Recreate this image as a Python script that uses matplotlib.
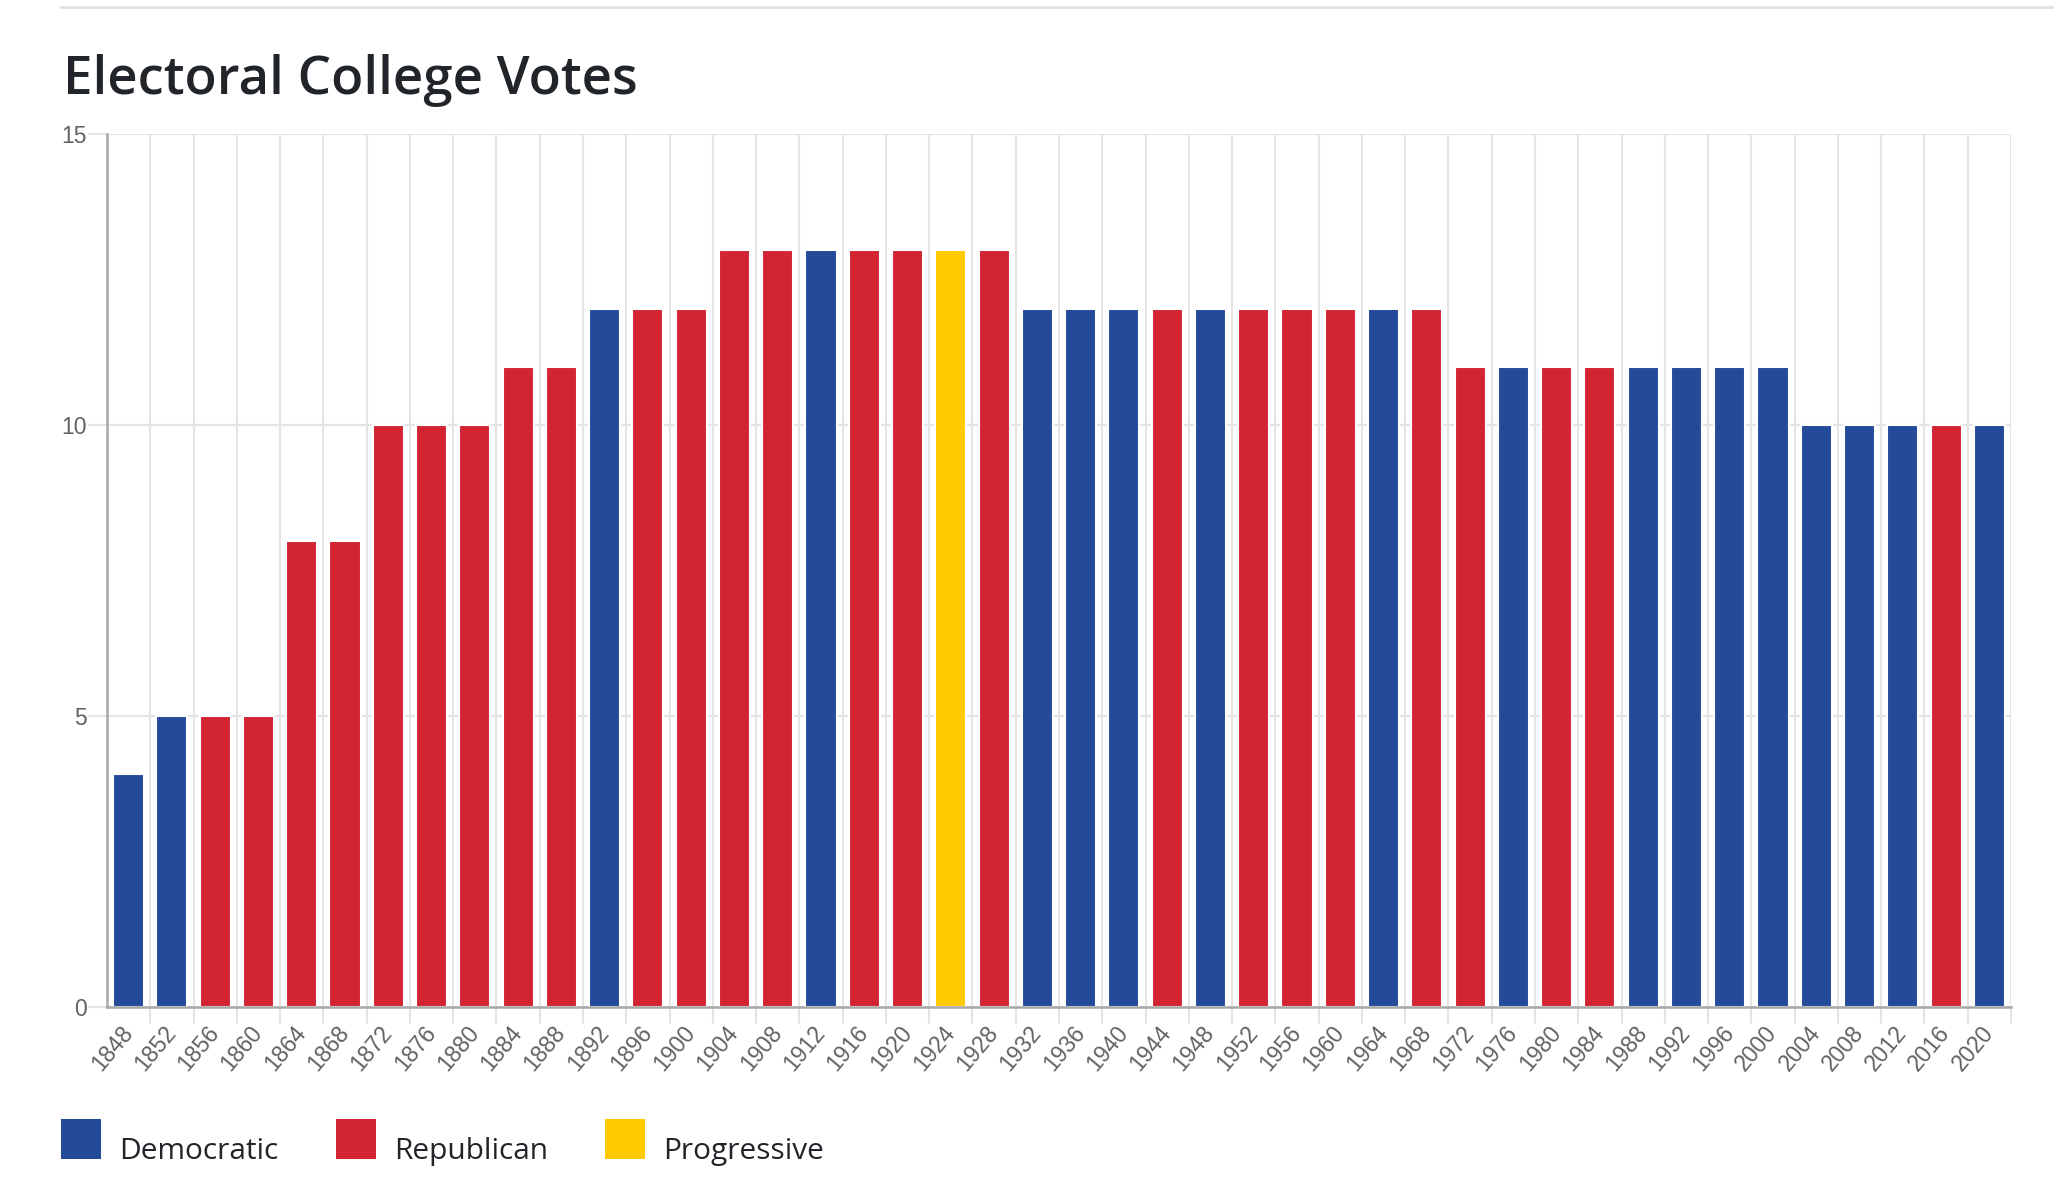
import matplotlib
matplotlib.use("Agg")
import matplotlib.pyplot as plt
from matplotlib.patches import Patch, Rectangle
from matplotlib.lines import Line2D
from matplotlib.legend_handler import HandlerPatch

years = list(range(1848, 2021, 4))
votes = [4, 5, 5, 5, 8, 8, 10, 10, 10, 11, 11, 12, 12, 12, 13, 13, 13, 13, 13, 13, 13,
         12, 12, 12, 12, 12, 12, 12, 12, 12, 12, 11, 11, 11, 11, 11, 11, 11, 11,
         10, 10, 10, 10, 10]
party = ["D", "D", "R", "R", "R", "R", "R", "R", "R", "R", "R", "D", "R", "R", "R", "R",
         "D", "R", "R", "P", "R", "D", "D", "D", "R", "D", "R", "R", "R", "D", "R",
         "R", "D", "R", "R", "D", "D", "D", "D", "D", "D", "D", "R", "D"]
party_names = {"D": "Democratic", "R": "Republican", "P": "Progressive"}
party_colors = {"D": "#244a9a", "R": "#d32433", "P": "#ffcb00"}
y_ticks = [0, 5, 10, 15]

W, H = 2054, 1182
fig = plt.figure(figsize=(W / 100, H / 100), dpi=100)
fig.patch.set_facecolor("white")

left, right, top, bottom = 107, 2011, 134, 1007
ax = fig.add_axes([left / W, 1 - bottom / H, (right - left) / W, (bottom - top) / H])

x = list(range(len(years)))
ax.bar(x, votes, width=0.72, color=[party_colors[p] for p in party],
       edgecolor="white", linewidth=1.5, zorder=3)

ax.set_xlim(-0.5, len(years) - 0.5)
ax.set_ylim(0, 15)

grid_c = "#e4e4e4"
ax.set_yticks(y_ticks)
ax.set_yticklabels([str(v) for v in y_ticks])
ax.set_xticks(x)
ax.set_xticklabels([str(y) for y in years], rotation=50, ha="right", va="center",
                   rotation_mode="anchor")
ax.set_xticks([i - 0.5 for i in range(1, len(years) + 1)], minor=True)

ax.tick_params(axis="x", which="major", length=0, pad=16, labelsize=16.5, labelcolor="#626262")
ax.tick_params(axis="x", which="minor", length=12, width=1.5, color=grid_c)
ax.tick_params(axis="y", which="major", length=14, width=1.5, color=grid_c, pad=0.5,
               labelsize=16.5, labelcolor="#626262")
for lab in ax.get_xticklabels() + ax.get_yticklabels():
    lab.set_fontfamily(["Liberation Sans", "DejaVu Sans"])

ax.grid(True, axis="y", which="major", color=grid_c, linewidth=1.5, zorder=0)
ax.grid(True, axis="x", which="minor", color=grid_c, linewidth=1.5, zorder=0)
ax.set_axisbelow(True)

for s in ["top", "right"]:
    ax.spines[s].set_visible(False)
for s in ["left", "bottom"]:
    ax.spines[s].set_color("#a8a8a8")
    ax.spines[s].set_linewidth(1.8)
    ax.spines[s].set_zorder(4)

# top rule line
fig.add_artist(Line2D([61 / W, 1.0], [1 - 6.5 / H, 1 - 6.5 / H], transform=fig.transFigure,
                      color="#dee2e6", linewidth=2))

fig.text(63 / W, 1 - 94 / H, "Electoral College Votes", fontsize=38, fontweight="semibold",
         color="#212529", family=["Open Sans", "DejaVu Sans"], va="baseline", ha="left")


def baseline_square(legend, orig_handle, xdescent, ydescent, width, height, fontsize):
    # square whose bottom sits on the text baseline
    return Rectangle((-xdescent, 0), width, width)


handles = [Patch(facecolor=party_colors[k], edgecolor="none", label=party_names[k])
           for k in ["D", "R", "P"]]
fs_leg = 21.5
sq = 40 * 0.72 / fs_leg
fig.legend(handles=handles, loc="upper left", bbox_to_anchor=(61 / W, 1 - 1133 / H),
           ncol=3, frameon=False, handlelength=sq, handleheight=1.31,
           handletextpad=0.6, columnspacing=1.93, borderaxespad=0, borderpad=0,
           labelcolor="#212529",
           handler_map={Patch: HandlerPatch(patch_func=baseline_square)},
           prop={"family": ["Open Sans", "DejaVu Sans"], "size": fs_leg})

fig.savefig("out.png", dpi=100, facecolor="white")
